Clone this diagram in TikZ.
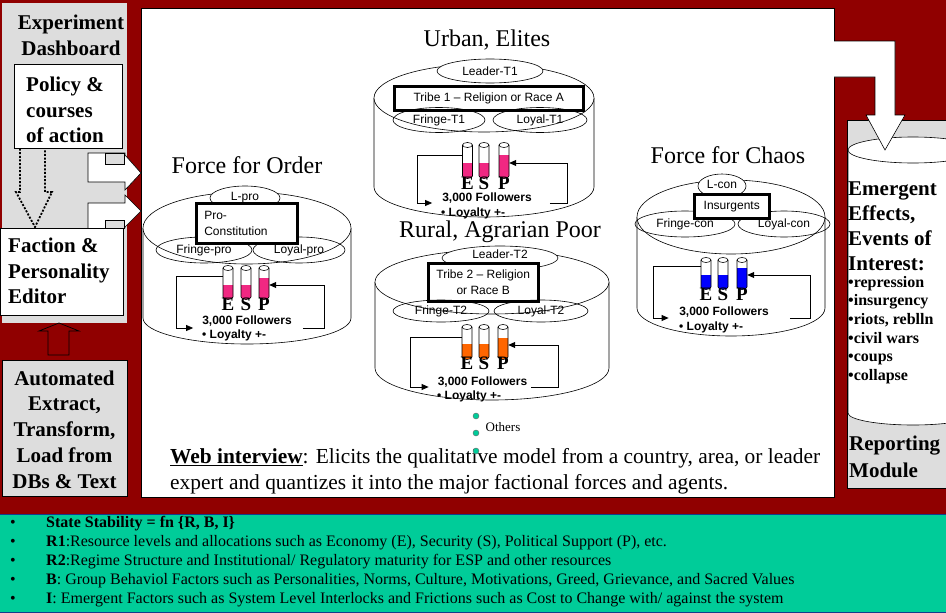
\documentclass[tikz,border=0pt]{standalone}
\usepackage{fontspec}
\setmainfont{Liberation Serif}
\setsansfont{Liberation Sans}
\usetikzlibrary{shapes.geometric,arrows.meta}

\definecolor{deepred}{RGB}{144,0,0}
\definecolor{panelgrey}{RGB}{221,221,221}
\definecolor{bandgreen}{RGB}{0,204,153}
\definecolor{bandedge}{RGB}{20,60,140}
\definecolor{gaugepink}{RGB}{240,40,130}
\definecolor{gaugeorange}{RGB}{255,102,0}
\definecolor{gaugeblue}{RGB}{0,0,255}

\newcommand{\pxfont}[2]{\fontsize{#1}{#2}\selectfont}

\tikzset{
  every node/.style={inner sep=1pt},
  headline/.style={font=\pxfont{21}{25.7}\bfseries},
  facttitle/.style={font=\pxfont{24}{28}},
  sanslabel/.style={font=\sffamily\pxfont{12}{14}},
  sansbold/.style={font=\sffamily\bfseries\pxfont{12}{14}},
  gaugeletter/.style={font=\bfseries\pxfont{19}{20}},
  member/.style={ellipse, draw, line width=0.6pt, inner sep=0pt, font=\sffamily\pxfont{12}{14}},
  groupbox/.style={draw, line width=2.5pt, fill=white, inner ysep=0pt, font=\sffamily\pxfont{12}{16}},
  feedback/.style={line width=0.8pt, -{Triangle[length=7pt,width=6pt]}},
  shapeline/.style={line width=0.6pt},
  bandtext/.style={anchor=west, font=\pxfont{16}{19}},
  bandbullet/.style={anchor=center, font=\pxfont{16}{19}},
  others/.style={circle, draw=black!60, fill=bandgreen, minimum size=6pt, inner sep=0pt},
}

% faction drum: centre x, x radius, top y, top y radius, bottom y, bottom y radius
\newcommand{\drum}[6]{%
  \draw[shapeline, fill=white] (#1-#2,#3) -- (#1-#2,#5)
    arc[start angle=180, end angle=0, x radius=#2, y radius=#6] -- (#1+#2,#3);
  \draw[shapeline, fill=white] (#1,#3) ellipse[x radius=#2, y radius=#4];
}

% resource gauge: name, x, top, bottom, fill level, colour
\newcommand{\gauge}[6]{%
  \fill[#6] (#2-5,#5) -- (#2-5,#4)
    arc[start angle=180, end angle=0, x radius=5, y radius=2.5] -- (#2+5,#5) -- cycle;
  \draw[line width=0.6pt] (#2-5,#3) -- (#2-5,#4)
    arc[start angle=180, end angle=0, x radius=5, y radius=2.5] -- (#2+5,#3);
  \draw[line width=0.6pt] (#2,#3) ellipse[x radius=5, y radius=2.5];
  \node[inner sep=0pt, minimum width=10pt, minimum height={(#4-#3)*1pt}] (#1) at (#2,{(#3+#4)/2}) {};
}

\begin{document}
\begin{tikzpicture}[x=1pt, y=-1pt]
\useasboundingbox (0,0) rectangle (946,613);

% backgrounds
\fill[deepred] (0,0) rectangle (946,613);
\fill[bandgreen] (0,514) rectangle (946,613);
\draw[bandedge, line width=0.8pt] (0,514) -- (946,514);
\draw[bandedge, line width=0.8pt] (0,612.6) -- (946,612.6);
\draw[fill=white, line width=0.5pt] (141,8) rectangle (834,497);

% ---------- left column ----------
\fill[panelgrey] (2,3) rectangle (127,323);
\node[headline, align=center] (dash) at (71,35) {Experiment\\Dashboard};
\node[draw, fill=white, line width=0.6pt, minimum width=108pt, minimum height=84pt, anchor=north west, inner sep=0pt] (policy) at (14,64) {};
\node[headline, align=left, anchor=west] (policytext) at (25,110) {Policy \&\\courses\\of action};

% dotted hand-over arrow
\draw[line width=1.8pt, dash pattern=on 2pt off 1.6pt] (policy.south -| 20,0) -- (20,192) -- (16,192) -- (35,227) -- (52,192) -- (45,192) -- (policy.south -| 45,0);

% arrows into the model area
\draw[fill=white, line width=0.6pt] (88,153) -- (88,182) -- (125,182) -- (125,190) -- (141,173) -- (125,155) -- (125,153) -- cycle;
\draw[fill=panelgrey, line width=0.6pt] (105,153) rectangle (124,164);
\draw[fill=white, line width=0.6pt] (88,228) -- (88,203) -- (125,203) -- (125,195) -- (141,211) -- (125,227) -- (125,228);
\draw[fill=panelgrey, line width=0.6pt] (105,220) rectangle (124,228);

\node[draw, fill=white, line width=0.6pt, minimum width=123pt, minimum height=87pt, anchor=north west, inner sep=0pt] (editor) at (0,228) {};
\node[headline, align=left, anchor=west] (editortext) at (7,271) {Faction \&\\Personality\\Editor};

\node[draw, fill=panelgrey, line width=0.6pt, minimum width=125pt, minimum height=136pt, anchor=north west, inner sep=0pt] (etl) at (2,360) {};
\node[headline, align=center] (etltext) at (64.5,429.5) {Automated\\Extract,\\Transform,\\Load from\\DBs \& Text};

% hollow arrow from the loader up to the editor
\draw[line width=0.7pt] (48,355) -- (48,331) -- (39,331) -- (59,323) -- (79,331) -- (69,331) -- (69,355) -- cycle;

% ---------- right column ----------
\draw[fill=panelgrey, line width=0.6pt] (847,120) rectangle (960,488);
\draw[shapeline, fill=white] (848,150) -- (848,413)
  arc[start angle=180, end angle=0, x radius=65, y radius=12] -- (978,150);
\draw[shapeline, fill=white] (913,150) ellipse[x radius=65, y radius=13];
\draw[fill=white, line width=0.6pt] (834,41) -- (895,41) -- (895,115) -- (905,115) -- (885,150) -- (866,115) -- (875,115) -- (875,77) -- (834,77);
\node[align=left, anchor=west, inner sep=0pt, font=\pxfont{21}{25}\bfseries] (emergent) at (848,226) {Emergent\\Effects,\\Events of\\Interest:};
\node[align=left, anchor=west, inner sep=0pt, font=\pxfont{16}{18.6}\bfseries] (events) at (848,330) {•repression\\•insurgency\\•riots, reblln\\•civil wars\\•coups\\•collapse};
\node[align=left, anchor=west, font=\pxfont{21}{27}\bfseries] (reporting) at (848,456.5) {Reporting\\Module};

% ---------- Force for Order ----------
\node[facttitle] (ordertitle) at (247,165) {Force for Order};
\drum{247}{104}{228}{36}{318}{26}
\node[member, fill=white, minimum width=70pt, minimum height=24pt] (lpro) at (245,198) {L-pro};
\node[member, minimum width=96pt, minimum height=26pt] (fringepro) at (204,250) {Fringe-pro};
\node[member, minimum width=92pt, minimum height=26pt] (loyalpro) at (299,250) {Loyal-pro};
\node[groupbox, anchor=north west, minimum width=101pt, minimum height=40pt, inner xsep=8pt, text width=85pt, align=left] (procon) at (195,202) {Pro-\\Constitution};
\gauge{oE}{228}{268}{297}{285}{gaugepink}
\gauge{oS}{246}{268}{297}{285}{gaugepink}
\gauge{oP}{264}{268}{297}{278}{gaugepink}
\node[gaugeletter] (oEl) at (228,304) {E};
\node[gaugeletter] (oSl) at (246,304) {S};
\node[gaugeletter] (oPl) at (264,304) {P};
\node[sansbold] (ofol) at (247,321) {3,000 Followers};
\node[sansbold, anchor=west] (oloy) at (201,335) {• Loyalty +-};
\draw[feedback] ([yshift=6pt]oE.west) -| ([xshift=-25pt,yshift=-7pt]ofol.west) -- ([xshift=-8pt,yshift=-7pt]ofol.west);
\draw[feedback] ([xshift=10pt,yshift=-7pt]ofol.east) -- ([xshift=32pt,yshift=-7pt]ofol.east) |- ([yshift=-2.5pt]oP.east);

% ---------- Urban, Elites ----------
\node[facttitle] (urbantitle) at (487,40) {Urban, Elites};
\drum{484}{110}{98}{34}{187}{30}
\node[member, fill=white, minimum width=106pt, minimum height=24pt] (leader1) at (490,71) {Leader-T1};
\node[groupbox, anchor=north west, minimum width=189pt, minimum height=24pt, align=center] (tribe1) at (393,85) {Tribe 1 – Religion or Race A};
\node[member, minimum width=92pt, minimum height=25pt] (fringe1) at (439,120) {Fringe-T1};
\node[member, minimum width=94pt, minimum height=25pt] (loyal1) at (540,120) {Loyal-T1};
\gauge{uE}{467.5}{145}{176}{163}{gaugepink}
\gauge{uS}{484}{145}{176}{163}{gaugepink}
\gauge{uP}{504}{145}{176}{155}{gaugepink}
\node[gaugeletter] (uEl) at (467.5,183) {E};
\node[gaugeletter] (uSl) at (484,183) {S};
\node[gaugeletter] (uPl) at (504,183) {P};
\node[sansbold] (ufol) at (487,198) {3,000 Followers};
\node[sansbold, anchor=west] (uloy) at (440,213) {• Loyalty +-};
\draw[feedback] ([yshift=5.5pt]uE.west) -| ([xshift=-24pt,yshift=-5pt]ufol.west) -- ([xshift=-9pt,yshift=-5pt]ufol.west);
\draw[feedback] ([xshift=17pt,yshift=-5pt]ufol.east) -- ([xshift=35pt,yshift=-5pt]ufol.east) |- ([yshift=-2.5pt]uP.east);

% ---------- Rural, Agrarian Poor ----------
\node[facttitle] (ruraltitle) at (500,232) {Rural, Agrarian Poor};
\drum{492}{117}{282}{32}{368}{32}
\node[member, fill=white, minimum width=116pt, minimum height=24pt] (leader2) at (500,258) {};
\node[sanslabel] (leader2text) at (500,254) {Leader-T2};
\node[groupbox, anchor=north west, minimum width=110pt, minimum height=38pt, align=center] (tribe2) at (427,262) {Tribe 2 – Religion\\or Race B};
\node[member, minimum width=96pt, minimum height=22pt] (fringe2) at (441,311) {Fringe-T2};
\node[member, minimum width=94pt, minimum height=22pt] (loyal2) at (541,311) {Loyal-T2};
\gauge{rE}{467}{327}{357}{344}{gaugeorange}
\gauge{rS}{484}{327}{357}{344}{gaugeorange}
\gauge{rP}{503}{327}{357}{338}{gaugeorange}
\node[gaugeletter] (rEl) at (467,363) {E};
\node[gaugeletter] (rSl) at (484,363) {S};
\node[gaugeletter] (rPl) at (503,363) {P};
\node[sansbold] (rfol) at (482.5,382) {3,000 Followers};
\node[sansbold, anchor=west] (rloy) at (436,396) {• Loyalty +-};
\draw[feedback] ([yshift=5pt]rE.west) -| ([xshift=-26pt,yshift=-5pt]rfol.west) -- ([xshift=-8pt,yshift=-5pt]rfol.west);
\draw[feedback] ([xshift=3pt,yshift=-5pt]rfol.east) -- ([xshift=30pt,yshift=-5pt]rfol.east) |- ([yshift=-3pt]rP.east);

% ---------- Force for Chaos ----------
\node[facttitle] (chaostitle) at (728,155) {Force for Chaos};
\drum{731}{94}{217}{37}{308}{28}
\node[member, fill=white, minimum width=48pt, minimum height=24pt] (lcon) at (722,186) {};
\node[sanslabel] (lcontext) at (722,184) {L-con};
\node[member, minimum width=100pt, minimum height=26pt] (fringecon) at (685,224) {Fringe-con};
\node[member, minimum width=92pt, minimum height=26pt] (loyalcon) at (784,224) {Loyal-con};
\node[groupbox, anchor=north west, minimum width=75pt, minimum height=24pt, align=center] (insurg) at (693,193) {Insurgents};
\gauge{cE}{706}{260}{287}{275}{gaugeblue}
\gauge{cS}{723}{260}{287}{275}{gaugeblue}
\gauge{cP}{742}{260}{287}{268}{gaugeblue}
\node[gaugeletter] (cEl) at (706,294) {E};
\node[gaugeletter] (cSl) at (723,294) {S};
\node[gaugeletter] (cPl) at (742,294) {P};
\node[sansbold] (cfol) at (724,312) {3,000 Followers};
\node[sansbold, anchor=west] (cloy) at (678,327) {• Loyalty +-};
\draw[feedback] ([yshift=7.5pt]cE.west) -| ([xshift=-24.5pt,yshift=-6pt]cfol.west) -- ([xshift=-9.5pt,yshift=-6pt]cfol.west);
\draw[feedback] ([xshift=20pt,yshift=-6pt]cfol.east) -- ([xshift=40.5pt,yshift=-6pt]cfol.east) |- ([yshift=-1.5pt]cP.east);

% ---------- others ----------
\node[others] (dot1) at (476,416) {};
\node[others] (dot2) at (476,433) {};
\node[font=\pxfont{13}{15}] (otherstext) at (503,427) {Others};

% ---------- web interview note ----------
\node[anchor=west, align=left, font=\pxfont{21.4}{26}] (web) at (169,471) {\textbf{\underline{Web interview}}: Elicits the qualitative model from a country, area, or leader\\expert and quantizes it into the major factional forces and agents.};
\node[others] (dot3) at (476,451) {};

% ---------- stability band ----------
\node[bandbullet] (b1) at (13,524) {•};
\node[bandbullet] (b2) at (13,543) {•};
\node[bandbullet] (b3) at (13,562) {•};
\node[bandbullet] (b4) at (13,581) {•};
\node[bandbullet] (b5) at (13,600) {•};
\node[bandtext] (l1) at (45,524) {\textbf{State Stability = fn \{R, B, I\}}};
\node[bandtext] (l2) at (45,543) {\textbf{R1}:Resource levels and allocations such as Economy (E), Security (S), Political Support (P), etc.};
\node[bandtext] (l3) at (45,562) {\textbf{R2}:Regime Structure and Institutional/ Regulatory maturity for ESP and other resources};
\node[bandtext] (l4) at (45,581) {\textbf{B}: Group Behaviol Factors such as Personalities, Norms, Culture, Motivations, Greed, Grievance, and Sacred Values};
\node[bandtext] (l5) at (45,600) {\textbf{I}: Emergent Factors such as System Level Interlocks and Frictions such as Cost to Change with/ against the system};
\end{tikzpicture}
\end{document}
